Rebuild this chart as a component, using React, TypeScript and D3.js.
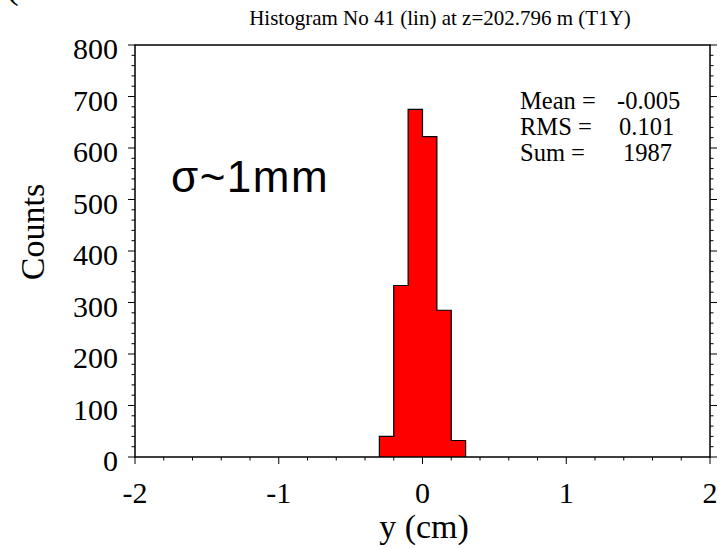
import React from "react";
import * as d3 from "d3";

const binEdges = [-0.3, -0.2, -0.1, 0, 0.1, 0.2, 0.3];
const counts = [40, 333, 675, 622, 285, 32];
const yTicks = [0, 100, 200, 300, 400, 500, 600, 700, 800];
const xTicks = [-2, -1, 0, 1, 2];
const statLabels = ["Mean =", "RMS =", "Sum ="];
const statValues = ["-0.005", "0.101", "1987"];

const W = 722;
const H = 549;
const serif = "'Liberation Serif', 'Times New Roman', serif";
const sans = "'Liberation Sans', Arial, sans-serif";

export default function App() {
  const x = d3.scaleLinear().domain([-2, 2]).range([135, 710]);
  const y = d3.scaleLinear().domain([0, 800]).range([457, 45]);
  const yMinor = d3.range(0, 801, 20);
  const xMinor = d3.range(-2, 2.0001, 0.2);
  const bins = counts.map((c, i) => ({ x0: binEdges[i], x1: binEdges[i + 1], c }));
  const valueX = [617, 619, 623];

  // step outline of the histogram
  const outline = d3.path();
  outline.moveTo(x(bins[0].x0), y(0));
  bins.forEach((b) => {
    outline.lineTo(x(b.x0), y(b.c));
    outline.lineTo(x(b.x1), y(b.c));
  });
  outline.lineTo(x(bins[bins.length - 1].x1), y(0));
  const fillPath = outline.toString() + "Z";

  return (
    <svg
      width={W}
      height={H}
      style={{ position: "absolute", left: 0, top: 0, background: "#fff" }}
    >
      <rect x={0} y={0} width={W} height={H} fill="#fff" />
      {/* cropped fragment at top-left */}
      <text x={6} y={-2} fontFamily={serif} fontSize={38} fill="#000">(</text>

      <text x={440} y={25} textAnchor="middle" fontFamily={serif} fontSize={21} fill="#000">
        Histogram No 41 (lin) at z=202.796 m (T1Y)
      </text>

      {/* histogram fill and step outline */}
      <path d={fillPath} fill="#ff0000" stroke="none" />
      <path d={outline.toString()} fill="none" stroke="#000" strokeWidth={1.2} />

      {/* frame */}
      <rect x={x(-2)} y={y(800)} width={x(2) - x(-2)} height={y(0) - y(800)} fill="none" stroke="#000" strokeWidth={1.5} />

      {/* left ticks */}
      {yMinor.map((v) => {
        const major = v % 100 === 0;
        return (
          <line key={"l" + v} x1={x(-2) - (major ? 7 : 3.5)} x2={x(-2)} y1={y(v)} y2={y(v)} stroke="#000" strokeWidth={1} />
        );
      })}
      {/* right ticks */}
      {yMinor.map((v) => {
        const major = v % 100 === 0;
        return (
          <line key={"r" + v} x1={x(2)} x2={x(2) + (major ? 7 : 3.5)} y1={y(v)} y2={y(v)} stroke="#000" strokeWidth={1} />
        );
      })}
      {/* bottom ticks */}
      {xMinor.map((v, i) => {
        const major = i % 5 === 0;
        return (
          <line key={"b" + i} x1={x(v)} x2={x(v)} y1={y(0)} y2={y(0) + (major ? 7 : 3.5)} stroke="#000" strokeWidth={1} />
        );
      })}

      {/* y tick labels */}
      {yTicks.map((v) => (
        <text key={"yl" + v} x={118} y={y(v) + 14} textAnchor="end" fontFamily={serif} fontSize={30} fill="#000">
          {v}
        </text>
      ))}
      {/* x tick labels */}
      {xTicks.map((v) => (
        <text key={"xl" + v} x={x(v)} y={503} textAnchor="middle" fontFamily={serif} fontSize={30} fill="#000">
          {v}
        </text>
      ))}

      <text x={424} y={538} textAnchor="middle" fontFamily={serif} fontSize={34} fill="#000">
        y (cm)
      </text>
      <text transform="translate(44,232) rotate(-90)" textAnchor="middle" fontFamily={serif} fontSize={34} fill="#000">
        Counts
      </text>

      <text x={171} y={192} fontFamily={sans} fontSize={44} letterSpacing={1.5} fill="#000">σ~1mm</text>

      {statLabels.map((s, i) => (
        <text key={"s" + i} x={520} y={109 + i * 26} fontFamily={serif} fontSize={24.5} fill="#000">{s}</text>
      ))}
      {statValues.map((s, i) => (
        <text key={"v" + i} x={valueX[i]} y={109 + i * 26} fontFamily={serif} fontSize={24.5} fill="#000">{s}</text>
      ))}
    </svg>
  );
}
